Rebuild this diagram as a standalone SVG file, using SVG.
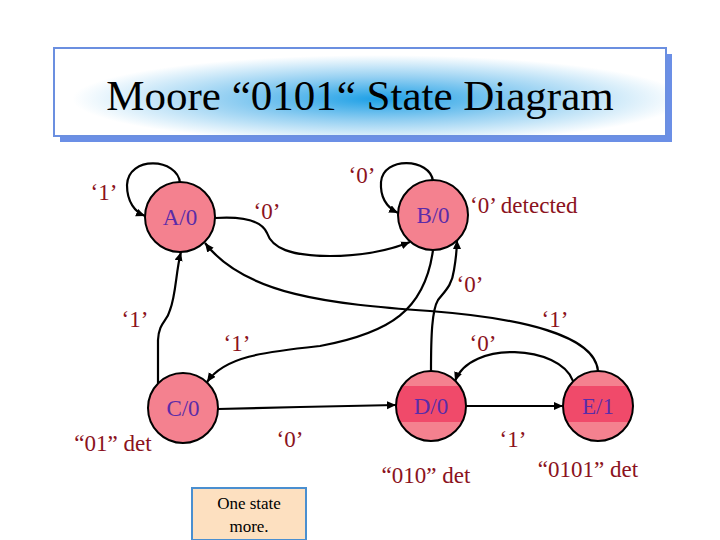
<svg xmlns="http://www.w3.org/2000/svg" width="720" height="540" viewBox="0 0 720 540">
<style>
.node{fill:#f4818f;stroke:#000;stroke-width:2}
.hl{fill:url(#band);stroke:#000;stroke-width:2}
.serif{font-family:"Liberation Serif","Times New Roman",serif}
.nl{font-family:"Liberation Serif","Times New Roman",serif;font-size:23px;fill:#5b2ca8;text-anchor:middle}
.lb{font-family:"Liberation Serif","Times New Roman",serif;font-size:23px;fill:#8b1220;text-anchor:middle}
.st{text-anchor:start}
.edge{fill:none;stroke:#000;stroke-width:2.2}
.arr{marker-end:url(#ah)}
</style>
<defs>
<radialGradient id="tg" cx="0.53" cy="0.58" r="0.5">
<stop offset="0" stop-color="#1ea0e6"/>
<stop offset="0.5" stop-color="#95d0f2"/>
<stop offset="1" stop-color="#ffffff"/>
</radialGradient>
<linearGradient id="band" x1="0" y1="0" x2="0" y2="1">
<stop offset="0" stop-color="#f4818f"/>
<stop offset="0.21" stop-color="#f4818f"/>
<stop offset="0.21" stop-color="#f04a6a"/>
<stop offset="0.73" stop-color="#f04a6a"/>
<stop offset="0.73" stop-color="#f4818f"/>
<stop offset="1" stop-color="#f4818f"/>
</linearGradient>
<marker id="ah" markerUnits="userSpaceOnUse" markerWidth="10" markerHeight="10" refX="9" refY="4" orient="auto">
<path d="M0,0 L9,4 L0,8 z" fill="#000"/>
</marker>
</defs>
<g id="title">
<rect x="60" y="54" width="612" height="88" fill="#6b8fe6"/>
<rect x="54" y="48" width="612" height="88" fill="url(#tg)" stroke="#6b8fe0" stroke-width="2"/>
<text class="serif" x="360" y="110" font-size="43" text-anchor="middle" fill="#000">Moore “0101“ State Diagram</text>
</g>
<g id="nodeA"><circle class="node" cx="180" cy="217" r="35"/><text class="nl" x="180" y="225">A/0</text></g>
<g id="nodeB"><circle class="node" cx="433" cy="215" r="35"/><text class="nl" x="433" y="223">B/0</text></g>
<g id="nodeC"><circle class="node" cx="183" cy="408" r="35"/><text class="nl" x="183" y="416">C/0</text></g>
<g id="nodeD"><circle class="hl" cx="431" cy="406" r="35"/><text class="nl" x="431" y="414">D/0</text></g>
<g id="nodeE"><circle class="hl" cx="598" cy="406" r="35"/><text class="nl" x="598" y="414">E/1</text></g>
<g id="connectors">
<path class="edge arr" d="M180,183 C178,158 128,155 127,185 C127,202 135,212 145,216"/>
<path class="edge arr" d="M433,181 C430,158 383,156 381,182 C380,198 388,208 398,213"/>
<path class="edge arr" d="M215,218 C245,216 262,222 267,233 C272,248 290,256 330,256 C365,256 390,250 410,242"/>
<path class="edge arr" d="M598,371 C595,335 520,318 430,311 C330,304 245,295 205,243"/>
<path class="edge arr" d="M158,383 L158,340 C159,322 167,322 170,310 C176,295 176,270 181,252"/>
<path class="edge arr" d="M433,250 C425,310 390,333 320,346 C265,352 225,356 207,382"/>
<path class="edge arr" d="M431,371 C431,335 432,310 438,300 C446,290 452,285 454,270 C456,258 457,248 457,240"/>
<path class="edge arr" d="M218,409 L300,407 L396,405"/>
<path class="edge arr" d="M466,406 L563,406"/>
<path class="edge arr" d="M573,381 C560,345 470,340 455,381"/>
</g>
<g id="labels">
<text class="lb" x="104" y="200">‘1’</text>
<text class="lb" x="267" y="219">‘0’</text>
<text class="lb" x="362" y="183">‘0’</text>
<text class="lb st" x="470" y="213">‘0’ detected</text>
<text class="lb" x="470" y="292">‘0’</text>
<text class="lb" x="555" y="327">‘1’</text>
<text class="lb" x="135" y="327">‘1’</text>
<text class="lb" x="237" y="351">‘1’</text>
<text class="lb" x="483" y="351">‘0’</text>
<text class="lb" x="290" y="447">‘0’</text>
<text class="lb" x="513" y="447">‘1’</text>
<text class="lb" x="113" y="451">“01” det</text>
<text class="lb" x="426" y="483">“010” det</text>
<text class="lb" x="588" y="477">“0101” det</text>
</g>
<g id="note">
<rect x="192" y="488" width="114" height="52" fill="#fde0c0" stroke="#4a8fd0" stroke-width="2"/>
<text class="serif" x="249" y="509" font-size="17" text-anchor="middle" fill="#000">One state</text>
<text class="serif" x="249" y="532" font-size="17" text-anchor="middle" fill="#000">more.</text>
</g>
</svg>
